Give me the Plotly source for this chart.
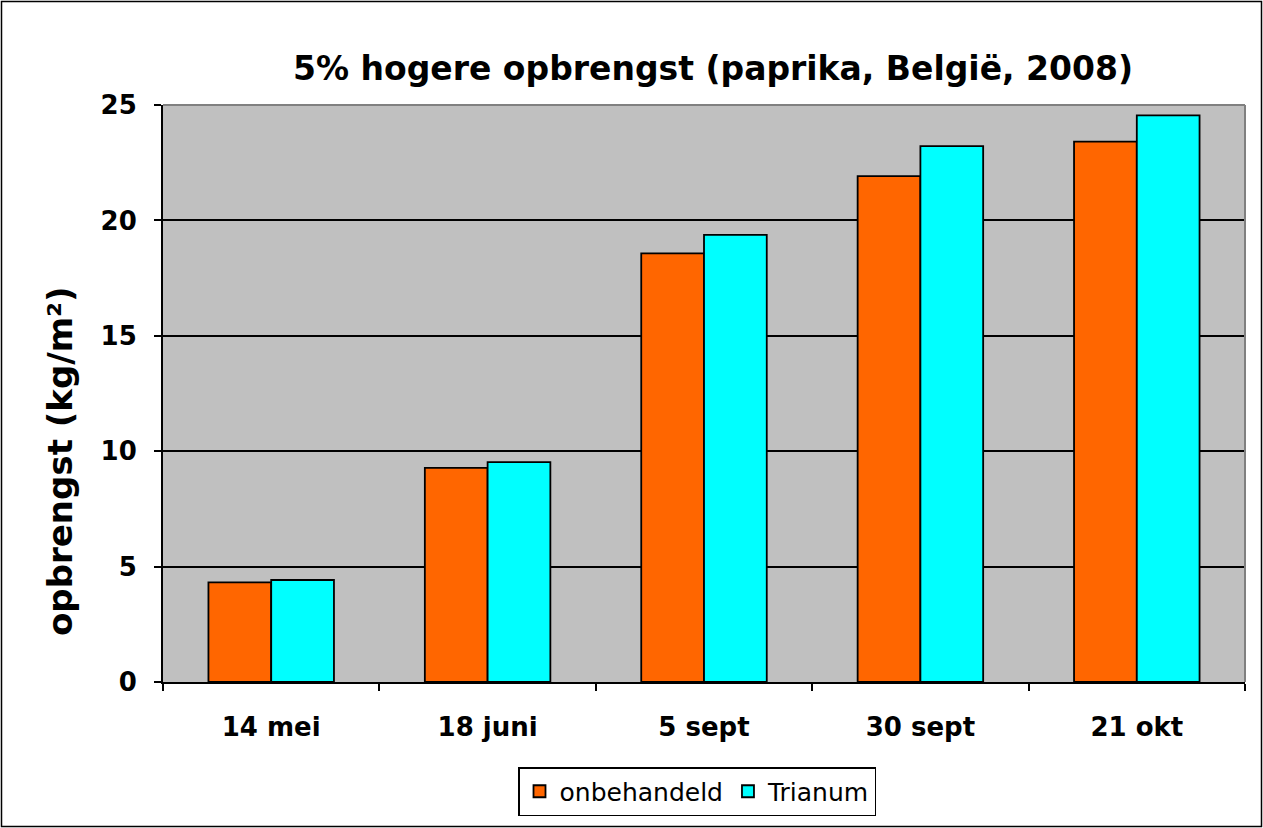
import plotly.graph_objects as go

categories = ["14 mei", "18 juni", "5 sept", "30 sept", "21 okt"]
onbehandeld = [4.32, 9.28, 18.57, 21.92, 23.41]
trianum = [4.42, 9.53, 19.37, 23.22, 24.55]
y_ticks = [0, 5, 10, 15, 20, 25]

W, H = 1263, 828
L, R, T, B = 163, 18, 105, 146
pw, ph = W - L - R, H - T - B

font = "DejaVu Sans, Verdana, sans-serif"

fig = go.Figure()
fig.add_trace(go.Bar(x=categories, y=onbehandeld, name="onbehandeld",
                     marker=dict(color="#FF6600", line=dict(color="black", width=1.8))))
fig.add_trace(go.Bar(x=categories, y=trianum, name="Trianum",
                     marker=dict(color="#00FFFF", line=dict(color="black", width=1.8))))

def px_x(p):
    return (p - L) / pw

def px_y(p):
    return (H - B - p) / ph

shapes = [
    dict(type="line", xref="paper", yref="paper", x0=0, x1=1, y0=1, y1=1,
         line=dict(color="#808080", width=2)),
    dict(type="line", xref="paper", yref="paper", x0=1, x1=1, y0=0, y1=1,
         line=dict(color="#808080", width=2)),
    dict(type="rect", xref="paper", yref="paper",
         x0=px_x(1.5), x1=px_x(W - 1.5), y0=px_y(H - 1.5), y1=px_y(1.5),
         line=dict(color="black", width=1.5), fillcolor="rgba(0,0,0,0)"),
]

annotations = [
    dict(text="<b>opbrengst (kg/m²)</b>", textangle=-90, showarrow=False,
         xref="paper", yref="paper", x=px_x(60), y=px_y(461),
         xanchor="center", yanchor="middle",
         font=dict(size=34, family=font, color="black")),
]

fig.update_layout(
    width=W, height=H,
    margin=dict(l=L, r=R, t=T, b=B, pad=0),
    paper_bgcolor="white",
    plot_bgcolor="#C0C0C0",
    barmode="group",
    bargap=0.42,
    bargroupgap=0,
    font=dict(family=font, color="black"),
    title=dict(text="<b>5% hogere opbrengst (paprika, België, 2008)</b>",
               x=713 / W, xanchor="center", xref="container",
               y=1 - 68 / H, yanchor="middle",
               font=dict(size=33, family=font, color="black")),
    legend=dict(orientation="h", x=px_x(697), xanchor="center",
                y=px_y(767), yanchor="top",
                bordercolor="black", borderwidth=1.5, bgcolor="white",
                font=dict(size=25, family=font), itemwidth=30,
                traceorder="normal"),
    shapes=shapes,
    annotations=annotations,
    xaxis=dict(tickson="boundaries", ticks="outside", ticklen=7, tickwidth=1.5,
               tickcolor="black", showline=True, linecolor="black", linewidth=2,
               ticklabelstandoff=21,
               tickfont=dict(size=26, family=font, color="black", weight="bold"),
               showgrid=False),
    yaxis=dict(range=[0, 25], tickvals=y_ticks, ticks="outside", ticklen=7,
               tickwidth=1.5, tickcolor="black", showline=True, linecolor="black",
               linewidth=2, showgrid=True, gridcolor="black", gridwidth=1.5,
               zeroline=False, ticklabelstandoff=12,
               tickfont=dict(size=26, family=font, color="black", weight="bold")),
)

fig.write_html("out.html", config={"displayModeBar": False},
               post_script="document.body.style.margin='0px';")
